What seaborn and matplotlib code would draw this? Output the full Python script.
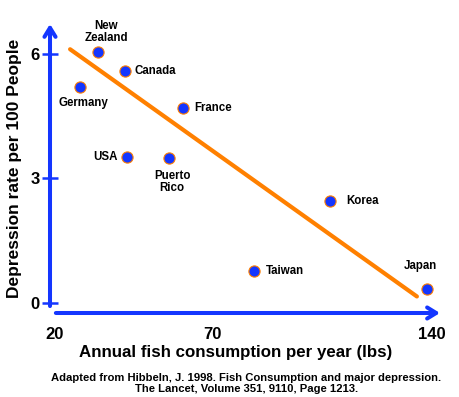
import matplotlib
matplotlib.use("Agg")
import matplotlib.pyplot as plt
import seaborn as sns
import pandas as pd

# Hibbeln 1998: fish consumption vs depression rate
countries = ["New\nZealand", "Canada", "Germany", "France", "USA",
             "Puerto\nRico", "Korea", "Taiwan", "Japan"]
fish_lbs = [33.6, 42.3, 28.0, 60.7, 42.9, 56.4, 107.6, 83.2, 138.4]
depression = [6.05, 5.6, 5.2, 4.69, 3.51, 3.49, 2.45, 0.77, 0.32]

# trend line drawn on the slide (end points)
trend_x = [24.8, 135.2]
trend_y = [6.12, 0.15]

x_ticks = [20, 70, 140]
y_ticks = [0, 3, 6]

# label offsets (points) and alignment per country
label_pos = [(6, 14.5, "center"), (7, 0, "left"), (2, -11, "center"),
             (8, 0, "left"), (-7, 0, "right"), (2, -17, "center"),
             (11.5, 0, "left"), (9, 0, "left"), (-5, 17, "center")]

BLUE = "#1436ff"
ORANGE = "#ff8000"

sns.set_theme(style="white")
plt.rcParams["font.family"] = ["Liberation Sans", "DejaVu Sans"]
plt.rcParams["font.weight"] = "bold"
plt.rcParams["text.color"] = "black"
plt.rcParams["axes.labelcolor"] = "black"

df = pd.DataFrame({"fish": fish_lbs, "dep": depression, "country": countries})
trend = pd.DataFrame({"fish": trend_x, "dep": trend_y})

fig = plt.figure(figsize=(4.6, 3.97), dpi=100)
ax = fig.add_axes([0.1087, 0.2116, 0.8478, 0.728])

sns.lineplot(data=trend, x="fish", y="dep", color=ORANGE, lw=3, ax=ax)
sns.scatterplot(data=df, x="fish", y="dep", s=65, color=BLUE,
                edgecolor=ORANGE, linewidth=0.8, ax=ax, zorder=3)

for (name, x, y), (dx, dy, ha) in zip(zip(countries, fish_lbs, depression), label_pos):
    ax.annotate(name, (x, y), xytext=(dx, dy), textcoords="offset points",
                ha=ha, va="center", fontsize=8.3, fontweight="bold",
                multialignment="center", linespacing=1.0, color="black")

ax.set_xlim(18.41, 142.55)
ax.set_ylim(-0.249, 6.73)
for s in ax.spines.values():
    s.set_visible(False)

# axis arrows
arrow = dict(arrowstyle="->,head_length=0.65,head_width=0.4", color=BLUE,
             lw=2.9, shrinkA=0, shrinkB=0, mutation_scale=10)
ax.annotate("", xy=(0, 1.0), xytext=(0, 0.024), xycoords="axes fraction",
            arrowprops=arrow)
ax.annotate("", xy=(1.0, 0), xytext=(0.015, 0), xycoords="axes fraction",
            arrowprops=arrow)

ax.set_xticks(x_ticks)
ax.set_xticklabels([str(t) for t in x_ticks])
ax.set_yticks(y_ticks)
ax.set_yticklabels([str(t) for t in y_ticks])
ax.tick_params(axis="x", length=0, pad=10, labelsize=12, labelcolor="black")
ax.tick_params(axis="y", direction="inout", length=11, width=1.8,
               color=BLUE, pad=2, labelsize=12, left=True, labelcolor="black")
for lab in ax.get_xticklabels() + ax.get_yticklabels():
    lab.set_fontweight("bold")

ax.set_xlabel("Annual fish consumption per year (lbs)", fontsize=12.2,
              fontweight="bold", va="center")
ax.xaxis.set_label_coords(0.477, -0.135)
ax.set_ylabel("Depression rate per 100 People", fontsize=12.5,
              fontweight="bold", va="center")
ax.yaxis.set_label_coords(-0.09, 0.5)

fig.text(0.535, 0.034, "Adapted from Hibbeln, J. 1998. Fish Consumption and major depression.\n"
         "The Lancet, Volume 351, 9110, Page 1213.",
         ha="center", va="center", fontsize=8.1, fontweight="bold", linespacing=1.2)

fig.savefig("out.png", dpi=100)
plt.close(fig)
